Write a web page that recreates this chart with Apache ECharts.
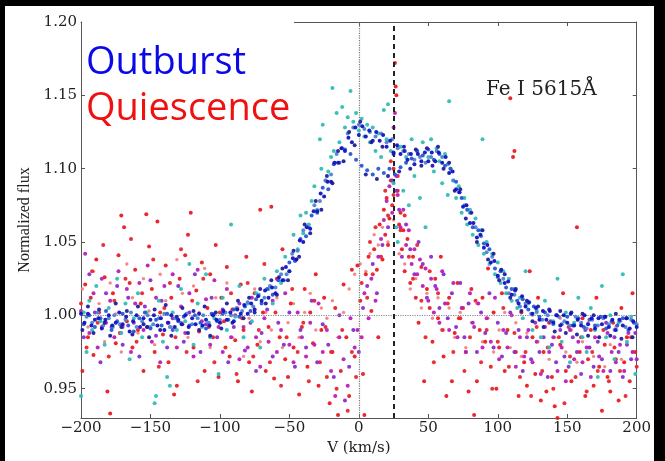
<!DOCTYPE html>
<html><head><meta charset="utf-8">
<script src="https://cdn.jsdelivr.net/npm/echarts@6/dist/echarts.min.js"></script>
<style>
html,body{margin:0;padding:0;background:#000;width:665px;height:461px;overflow:hidden}
#c{position:absolute;left:5px;top:6px;width:649px;height:455px;background:#fff}
</style>
</head><body><div id="c"></div>
<script>
// ---- axis ticks ----
const xTicks = [-200,-150,-100,-50,0,50,100,150,200];
const yTicks = [0.95,1.00,1.05,1.10,1.15,1.20];
const restVelocity = 0;     // dotted vertical
const systemicVelocity = 25; // dashed vertical
const continuumLevel = 1.0; // dotted horizontal

// ---- Outburst spectra (V km/s, normalized flux) ----
const outburstDark = [[-200,1.001],[-197.5,0.995],[-195,1.001],[-192.5,0.993],[-190,0.997],[-187.5,0.998],[-185,0.991],[-182.5,0.997],[-180,1.000],[-177.5,0.993],[-175,0.995],[-172.5,1.002],[-170,0.994],[-167.5,0.999],[-165,0.989],[-162.5,0.996],[-160,1.000],[-157.5,0.992],[-155,0.998],[-152.5,0.992],[-150,0.997],[-147.5,1.000],[-145,0.993],[-142.5,0.998],[-140,0.990],[-137.5,0.995],[-135,1.000],[-132.5,0.992],[-130,0.997],[-127.5,0.994],[-125,1.000],[-122.5,0.992],[-120,0.998],[-117.5,0.994],[-115,1.001],[-112.5,0.993],[-110,0.997],[-107.5,0.993],[-105,1.000],[-102.5,0.997],[-100,0.995],[-97.5,1.003],[-95,0.997],[-92.5,1.002],[-90,0.996],[-87.5,1.004],[-85,1.001],[-82.5,1.007],[-80,1.001],[-77.5,1.008],[-75,1.004],[-72.5,1.013],[-70,1.010],[-67.5,1.017],[-65,1.012],[-62.5,1.019],[-60,1.015],[-57.5,1.026],[-55,1.024],[-52.5,1.033],[-50,1.030],[-47.5,1.039],[-45,1.038],[-42.5,1.051],[-40,1.050],[-37.5,1.060],[-35,1.059],[-32.5,1.071],[-30,1.071],[-27.5,1.083],[-25,1.081],[-22.5,1.091],[-20,1.091],[-17.5,1.104],[-15,1.104],[-12.5,1.114],[-10,1.112],[-7.5,1.121],[-5,1.118],[-2.5,1.128],[0,1.123],[2.5,1.129],[5,1.122],[7.5,1.126],[10,1.119],[12.5,1.125],[15,1.119],[17.5,1.123],[20,1.115],[22.5,1.119],[25,1.111],[27.5,1.116],[30,1.110],[32.5,1.115],[35,1.106],[37.5,1.110],[40,1.103],[42.5,1.110],[45,1.105],[47.5,1.111],[50,1.105],[52.5,1.111],[55,1.105],[57.5,1.111],[60,1.104],[62.5,1.108],[65,1.097],[67.5,1.098],[70,1.086],[72.5,1.084],[75,1.074],[77.5,1.075],[80,1.063],[82.5,1.063],[85,1.053],[87.5,1.055],[90,1.046],[92.5,1.048],[95,1.036],[97.5,1.037],[100,1.027],[102.5,1.031],[105,1.022],[107.5,1.023],[110,1.014],[112.5,1.017],[115,1.008],[117.5,1.013],[120,1.006],[122.5,1.009],[125,1.001],[127.5,1.005],[130,0.997],[132.5,1.003],[135,0.997],[137.5,1.003],[140,0.995],[142.5,1.000],[145,0.993],[147.5,1.000],[150,0.995],[152.5,1.001],[155,0.993],[157.5,0.997],[160,0.993],[162.5,1.000],[165,0.994],[167.5,0.998],[170,0.991],[172.5,0.998],[175,0.994],[177.5,0.999],[180,0.992],[182.5,0.997],[185,0.990],[187.5,0.997],[190,0.993],[192.5,0.998],[195,0.991],[197.5,0.996],[200,0.992]];

const outburstNavy = [[-199,0.990],[-195,1.006],[-191,0.988],[-187,1.004],[-183,0.995],[-179,0.986],[-175,1.008],[-171,0.992],[-167,1.003],[-163,0.987],[-159,1.006],[-155,0.994],[-151,0.985],[-147,1.004],[-143,0.990],[-139,1.007],[-135,0.986],[-131,0.999],[-127,1.005],[-123,0.988],[-119,1.003],[-115,0.990],[-111,1.006],[-107,0.986],[-103,1.002],[-99,0.991],[-95,1.008],[-91,0.995],[-87,1.010],[-83,0.998],[-79,1.012],[-75,1.002],[-71,1.018],[-67,1.008],[-63,1.024],[-59,1.014],[-55,1.032],[-51,1.024],[-47,1.044],[-43,1.040],[-39,1.062],[-35,1.056],[-31,1.078],[-27,1.072],[-23,1.095],[-19,1.090],[-15,1.112],[-11,1.105],[-7,1.125],[-3,1.116],[1,1.132],[5,1.096],[9,1.118],[13,1.093],[17,1.115],[21,1.095],[25,1.110],[29,1.098],[33,1.112],[37,1.100],[41,1.113],[45,1.102],[49,1.114],[53,1.102],[57,1.115],[61,1.100],[65,1.104],[69,1.085],[73,1.086],[77,1.066],[81,1.070],[85,1.050],[89,1.058],[93,1.038],[97,1.042],[101,1.024],[105,1.028],[109,1.012],[113,1.018],[117,1.003],[121,1.010],[125,0.996],[129,1.006],[133,0.992],[137,1.004],[141,0.989],[145,1.003],[149,0.988],[153,1.002],[157,0.987],[161,1.001],[165,0.986],[169,1.000],[173,0.985],[177,0.999],[181,0.986],[185,1.001],[189,0.984],[193,0.998],[197,0.985]];

const outburstMid = [[-198,0.994],[-194,1.000],[-190,0.992],[-186,0.998],[-182,1.003],[-178,0.990],[-174,0.996],[-170,1.001],[-166,0.993],[-162,0.989],[-158,0.998],[-154,1.002],[-150,0.991],[-146,0.997],[-142,0.993],[-138,1.001],[-134,0.990],[-130,0.996],[-126,0.999],[-122,0.993],[-118,1.000],[-114,0.995],[-110,0.991],[-106,1.001],[-102,0.996],[-98,1.001],[-94,0.997],[-90,1.004],[-86,0.999],[-82,1.006],[-78,1.003],[-74,1.011],[-70,1.008],[-66,1.018],[-62,1.014],[-58,1.024],[-54,1.024],[-50,1.036],[-46,1.037],[-42,1.052],[-38,1.054],[-34,1.068],[-30,1.070],[-26,1.087],[-22,1.086],[-18,1.103],[-14,1.104],[-10,1.113],[-6,1.110],[-2,1.106],[2,1.102],[6,1.099],[10,1.096],[14,1.100],[18,1.097],[22,1.100],[26,1.096],[30,1.101],[34,1.104],[38,1.107],[42,1.112],[46,1.109],[50,1.113],[54,1.106],[58,1.110],[62,1.102],[66,1.100],[70,1.091],[74,1.080],[78,1.072],[82,1.060],[86,1.058],[90,1.049],[94,1.045],[98,1.032],[102,1.030],[106,1.019],[110,1.018],[114,1.010],[118,1.011],[122,1.004],[126,1.006],[130,0.999],[134,1.002],[138,0.996],[142,1.000],[146,0.994],[150,0.999],[154,0.993],[158,0.998],[162,0.992],[166,0.997],[170,0.993],[174,0.999],[178,0.991],[182,0.996],[186,0.993],[190,0.998],[194,0.990],[198,0.995]];

const outburstLight = [[-196,0.999],[-192,0.995],[-188,1.002],[-184,0.993],[-180,0.998],[-176,1.000],[-172,0.994],[-168,0.997],[-164,1.002],[-160,0.992],[-156,0.996],[-152,1.000],[-148,0.994],[-144,0.998],[-140,1.001],[-136,0.992],[-132,0.998],[-128,0.995],[-124,1.001],[-120,0.994],[-116,0.998],[-112,1.000],[-108,0.995],[-104,1.001],[-100,0.997],[-96,1.002],[-92,1.000],[-88,1.005],[-84,1.003],[-80,1.009],[-76,1.006],[-72,1.014],[-68,1.012],[-64,1.020],[-60,1.019],[-56,1.028],[-52,1.028],[-48,1.042],[-44,1.044],[-40,1.058],[-36,1.060],[-32,1.075],[-28,1.078],[-24,1.092],[-20,1.096],[-16,1.110],[-12,1.114],[-8,1.124],[-4,1.128],[0,1.130],[4,1.127],[8,1.125],[12,1.122],[16,1.124],[20,1.118],[24,1.120],[28,1.114],[32,1.112],[36,1.110],[40,1.106],[44,1.108],[48,1.104],[52,1.108],[56,1.112],[60,1.108],[64,1.103],[68,1.092],[72,1.084],[76,1.075],[80,1.070],[84,1.060],[88,1.054],[92,1.043],[96,1.040],[100,1.026],[104,1.025],[108,1.015],[112,1.014],[116,1.006],[120,1.008],[124,1.001],[128,1.003],[132,0.997],[136,1.000],[140,0.994],[144,0.999],[148,0.996],[152,0.993],[156,0.999],[160,0.995],[164,0.991],[168,0.997],[172,0.993],[176,0.998],[180,0.994],[184,0.990],[188,0.996],[192,0.992],[196,0.997],[200,0.994]];

const outburstCyan = [[-200,0.945],[-198,1.002],[-196,0.975],[-194,1.010],[-192,0.990],[-189,1.020],[-186,0.996],[-183,0.980],[-180,1.005],[-177,0.992],[-174,1.025],[-171,0.988],[-168,1.008],[-165,0.970],[-162,0.998],[-159,1.015],[-156,0.985],[-153,1.002],[-150,0.992],[-147,0.940],[-146,0.945],[-144,1.010],[-141,0.982],[-138,0.958],[-136,0.952],[-134,1.002],[-131,0.990],[-128,1.018],[-125,0.996],[-122,1.035],[-119,0.980],[-116,1.008],[-113,0.992],[-110,1.028],[-107,0.985],[-104,0.998],[-101,0.960],[-98,1.012],[-95,0.990],[-92,1.062],[-89,0.999],[-86,1.020],[-83,0.985],[-80,1.008],[-77,0.996],[-74,1.015],[-71,0.978],[-68,1.025],[-65,1.018],[-62,1.008],[-59,1.030],[-56,1.022],[-53,1.040],[-50,1.030],[-47,1.055],[-44,1.045],[-42,1.068],[-40,1.056],[-38,1.070],[-36,1.062],[-34,1.078],[-32,1.088],[-30,1.072],[-28,1.120],[-27,1.100],[-26,1.130],[-24,1.092],[-22,1.098],[-20,1.108],[-19,1.155],[-18,1.112],[-16,1.138],[-14,1.118],[-12,1.142],[-10,1.128],[-8,1.135],[-6,1.153],[-4,1.132],[-2,1.138],[0,1.126],[2,1.134],[4,1.122],[6,1.130],[8,1.118],[10,1.128],[12,1.112],[14,1.124],[16,1.108],[18,1.140],[20,1.120],[21,1.144],[23,1.112],[25,1.090],[27,1.060],[28,1.050],[30,1.115],[32,1.085],[34,1.108],[36,1.075],[38,1.120],[40,1.095],[42,1.112],[44,1.080],[46,1.118],[48,1.060],[50,1.108],[52,1.120],[54,1.098],[56,1.114],[58,1.105],[60,1.090],[62,1.110],[64,1.082],[65,1.146],[66,1.100],[68,1.092],[70,1.080],[72,1.088],[74,1.070],[76,1.080],[78,1.062],[80,1.072],[82,1.055],[84,1.066],[86,1.048],[88,1.058],[89,1.120],[90,1.042],[92,1.050],[94,1.035],[96,1.042],[98,1.028],[100,1.036],[102,1.022],[104,1.030],[106,1.015],[108,1.025],[110,1.010],[112,1.018],[114,1.005],[116,1.012],[118,0.998],[120,1.030],[122,1.008],[125,0.990],[128,1.002],[131,0.985],[134,1.010],[137,0.978],[140,0.996],[143,1.025],[146,0.982],[149,1.002],[152,0.968],[155,0.995],[158,1.012],[161,0.985],[164,0.975],[167,1.005],[170,0.990],[172,0.958],[175,1.020],[178,0.985],[181,1.000],[184,0.970],[187,0.995],[190,1.028],[193,0.982],[196,0.999],[199,0.960]];

// ---- Quiescence spectra ----
const quiescenceRed = [[-199,0.962],[-197,1.021],[-195,0.985],[-193,1.012],[-191,0.973],[-189,1.038],[-187,1.002],[-185,0.992],[-183,1.026],[-181,0.948],[-179,0.933],[-177,1.015],[-175,0.981],[-173,1.041],[-171,1.068],[-169,1.060],[-167,0.996],[-165,1.022],[-163,0.978],[-161,1.031],[-159,0.990],[-157,1.008],[-155,0.962],[-153,1.069],[-151,1.047],[-149,1.018],[-147,0.975],[-145,1.064],[-143,1.002],[-141,0.987],[-139,1.034],[-137,0.968],[-135,1.012],[-133,0.946],[-131,0.952],[-129,1.025],[-127,0.994],[-125,1.041],[-123,1.055],[-121,1.070],[-119,0.978],[-117,1.017],[-115,0.989],[-113,1.036],[-111,0.962],[-109,1.005],[-107,1.028],[-105,0.985],[-103,1.048],[-101,0.958],[-99,1.012],[-97,0.996],[-95,1.033],[-93,0.972],[-91,1.004],[-89,0.983],[-87,0.955],[-85,1.021],[-83,0.990],[-81,1.040],[-79,0.968],[-77,0.948],[-75,1.015],[-73,0.980],[-71,1.072],[-69,1.002],[-67,0.962],[-65,0.992],[-63,1.074],[-61,0.957],[-59,1.025],[-57,0.985],[-55,1.045],[-53,0.970],[-51,0.958],[-49,1.008],[-47,0.978],[-45,1.038],[-43,0.946],[-41,0.992],[-39,1.018],[-37,0.965],[-35,1.002],[-33,0.981],[-31,1.028],[-29,0.952],[-27,0.990],[-25,1.012],[-23,0.958],[-21,0.940],[-19,0.975],[-17,1.005],[-15,0.932],[-13,0.962],[-11,1.021],[-9,0.985],[-7,0.945],[-5,1.031],[-3,0.972],[-1,1.034],[1,1.010],[3,0.960],[4,0.932],[5,1.028],[7,1.040],[9,1.003],[11,1.045],[13,1.031],[14,0.985],[15,1.062],[17,1.038],[18,1.072],[19,1.055],[20,1.080],[21,1.048],[22,1.066],[23,1.092],[24,1.075],[25,1.100],[26,1.172],[26.5,1.156],[27,1.150],[28,1.085],[29,1.062],[30,1.070],[31,1.045],[32,1.058],[33,1.030],[35,1.052],[37,1.022],[39,1.040],[41,1.012],[43,0.995],[45,1.033],[47,0.955],[49,1.018],[51,1.005],[53,0.982],[55,1.025],[57,0.998],[59,1.040],[61,0.972],[63,0.945],[65,1.012],[67,0.955],[69,0.988],[71,1.022],[73,0.998],[75,1.005],[77,0.975],[79,0.948],[81,1.018],[83,0.932],[85,0.955],[87,0.990],[89,1.012],[91,0.982],[93,1.032],[95,0.965],[97,1.002],[99,0.950],[101,0.978],[103,1.015],[105,0.962],[107,0.990],[109,1.148],[111,1.108],[112,1.112],[113,0.975],[115,0.945],[117,1.002],[119,0.968],[121,0.952],[123,1.030],[125,0.985],[127,0.960],[129,1.012],[131,0.942],[133,0.975],[135,0.948],[137,0.995],[139,0.958],[141,0.938],[143,0.930],[145,0.980],[147,1.015],[149,0.962],[151,0.992],[153,0.955],[155,0.928],[157,1.060],[159,0.975],[161,0.998],[163,0.945],[165,0.970],[167,0.990],[169,0.952],[171,1.012],[173,0.965],[175,0.935],[177,0.980],[179,0.958],[181,0.948],[183,0.995],[185,0.970],[187,0.942],[189,1.005],[191,0.968],[193,0.985],[195,0.955],[197,1.015],[199,0.975]];

const quiescenceRed2 = [[-200,1.008],[-196,0.978],[-192,1.030],[-188,0.995],[-184,1.048],[-180,0.972],[-176,1.010],[-172,0.988],[-168,1.025],[-164,1.052],[-160,0.982],[-156,1.015],[-152,0.992],[-148,1.038],[-144,0.965],[-140,1.005],[-136,1.022],[-132,0.985],[-128,1.045],[-124,0.975],[-120,1.010],[-116,0.955],[-112,1.025],[-108,0.992],[-104,0.968],[-100,1.002],[-96,0.978],[-92,1.015],[-88,0.960],[-84,0.998],[-80,1.022],[-76,0.972],[-72,0.990],[-68,1.035],[-64,0.968],[-60,1.002],[-56,0.952],[-52,0.985],[-48,1.018],[-44,0.975],[-40,0.995],[-36,0.955],[-32,1.010],[-28,0.968],[-24,0.992],[-20,0.975],[-16,0.950],[-12,0.990],[-8,0.935],[-5,0.975],[-2,0.958],[2,1.022],[6,1.012],[8,1.050],[10,1.028],[12,1.060],[16,1.040],[19,1.085],[21,1.068],[23,1.105],[25,1.082],[28,1.095],[30,1.058],[33,1.068],[36,1.040],[39,1.025],[42,1.048],[45,1.010],[48,0.985],[51,1.030],[54,0.968],[57,1.015],[60,0.990],[64,1.008],[68,0.975],[72,0.998],[76,0.962],[80,0.985],[84,1.010],[88,0.968],[92,0.990],[96,0.950],[100,0.982],[104,1.005],[108,0.965],[112,0.988],[116,0.958],[120,0.975],[124,0.945],[128,0.992],[132,0.962],[136,0.978],[140,0.950],[144,0.985],[148,0.940],[152,0.972],[156,0.958],[160,0.985],[164,0.948],[168,0.975],[172,0.962],[176,0.990],[180,0.955],[184,0.978],[188,0.962],[192,0.945],[196,0.985],[200,0.965]];

const quiescenceMagenta = [[-200,1.003],[-197,1.042],[-194,0.988],[-191,1.015],[-188,0.978],[-185,1.025],[-182,0.995],[-179,1.010],[-176,0.985],[-173,1.030],[-170,0.992],[-167,1.018],[-164,0.975],[-161,1.008],[-158,1.022],[-155,0.990],[-152,1.034],[-149,0.982],[-146,1.012],[-143,0.968],[-140,1.020],[-137,0.995],[-134,1.028],[-131,0.978],[-128,1.006],[-125,0.988],[-122,1.015],[-119,0.972],[-116,1.031],[-113,0.996],[-110,1.011],[-107,0.980],[-104,1.024],[-101,0.992],[-98,0.975],[-95,1.018],[-92,0.985],[-89,1.000],[-86,0.970],[-83,0.992],[-80,0.978],[-77,1.012],[-74,0.985],[-71,0.965],[-68,0.998],[-65,0.982],[-62,1.010],[-59,0.975],[-56,0.990],[-53,1.015],[-50,0.980],[-47,0.968],[-44,1.002],[-41,0.985],[-38,0.972],[-35,0.995],[-32,0.980],[-29,1.008],[-26,0.975],[-23,0.990],[-20,0.962],[-17,0.945],[-14,0.985],[-11,0.970],[-8,0.952],[-6,0.998],[-3,0.978],[-1,0.990],[2,0.985],[4,1.015],[7,0.998],[9,1.025],[12,1.010],[14,1.040],[16,1.052],[18,1.065],[20,1.078],[22,1.088],[24,1.070],[25,1.128],[26,1.138],[27,1.095],[28,1.082],[30,1.060],[32,1.072],[34,1.048],[36,1.058],[38,1.035],[40,1.045],[42,1.028],[44,1.038],[46,1.020],[48,1.032],[50,1.010],[52,1.025],[54,1.002],[56,1.018],[58,0.995],[60,1.030],[62,1.008],[65,0.990],[68,1.022],[71,0.985],[74,1.005],[77,0.975],[80,1.015],[83,0.992],[86,1.008],[89,0.978],[92,0.998],[95,0.982],[98,1.012],[101,0.970],[104,0.990],[107,0.978],[110,1.000],[113,0.965],[116,0.985],[119,0.972],[122,0.990],[125,0.968],[128,0.982],[131,0.960],[134,0.992],[137,0.975],[140,0.985],[143,0.962],[146,0.978],[149,0.955],[152,0.990],[155,0.970],[158,0.982],[161,0.968],[164,0.978],[167,0.958],[170,0.985],[173,0.972],[176,0.962],[179,0.988],[182,0.975],[185,0.968],[188,0.980],[191,0.962],[194,0.988],[197,0.975],[200,0.970]];

const quiescenceViolet = [[-198,0.985],[-194,1.028],[-190,1.002],[-186,0.968],[-182,1.015],[-178,0.992],[-174,1.020],[-170,0.980],[-166,1.012],[-162,0.995],[-158,0.972],[-154,1.006],[-150,1.024],[-146,0.986],[-142,1.010],[-138,0.978],[-134,0.998],[-130,1.020],[-126,0.982],[-122,1.002],[-118,1.028],[-114,0.975],[-110,0.994],[-106,1.012],[-102,0.985],[-98,1.004],[-94,0.968],[-90,0.992],[-86,1.008],[-82,0.976],[-78,0.995],[-74,0.962],[-70,0.988],[-66,1.004],[-62,0.972],[-58,0.995],[-54,0.980],[-50,1.002],[-46,0.965],[-42,0.990],[-38,0.978],[-34,1.010],[-30,0.968],[-26,0.994],[-22,0.980],[-18,0.958],[-14,1.000],[-10,0.942],[-7,0.965],[-4,0.990],[0,0.975],[3,1.005],[6,1.020],[10,1.035],[13,1.015],[17,1.048],[21,1.060],[24,1.092],[27,1.085],[29,1.072],[31,1.040],[34,1.062],[37,1.045],[40,1.028],[43,1.050],[46,1.035],[49,1.012],[52,1.040],[55,1.020],[58,1.005],[61,1.028],[64,0.998],[67,1.015],[70,0.992],[73,1.022],[76,0.985],[79,1.008],[82,0.995],[85,0.975],[88,1.002],[91,0.988],[94,1.015],[97,0.978],[100,0.995],[103,0.972],[106,0.988],[109,1.002],[112,0.975],[115,0.990],[118,0.962],[121,0.985],[124,0.970],[127,0.995],[130,0.975],[133,0.985],[136,0.958],[139,0.980],[142,0.968],[145,0.990],[148,0.972],[151,0.965],[154,0.985],[157,0.975],[160,0.960],[163,0.990],[166,0.978],[169,0.965],[172,0.982],[175,0.970],[178,0.995],[181,0.962],[184,0.985],[187,0.975],[190,0.958],[193,0.980],[196,0.970],[199,0.988]];

const quiescencePink = [[-199,1.018],[-195,0.992],[-191,1.030],[-187,1.008],[-183,0.982],[-179,1.022],[-175,1.001],[-171,0.975],[-167,1.035],[-163,1.012],[-159,0.988],[-155,1.025],[-151,1.003],[-147,0.980],[-143,1.028],[-139,1.010],[-135,0.992],[-131,1.038],[-127,1.015],[-123,0.985],[-119,1.020],[-115,1.002],[-111,1.032],[-107,0.978],[-103,1.012],[-99,0.995],[-95,1.022],[-91,0.985],[-87,1.005],[-83,0.972],[-79,0.998],[-75,1.018],[-71,0.982],[-67,1.002],[-63,0.990],[-59,1.012],[-55,0.978],[-51,0.995],[-47,1.008],[-43,0.985],[-39,1.002],[-35,1.015],[-31,0.990],[-27,1.005],[-23,0.998],[-19,1.010],[-15,0.985],[-11,1.002],[-7,1.018],[-3,1.028],[1,1.035],[5,1.030],[8,1.042],[11,1.055],[14,1.048],[17,1.060],[21,1.050],[25,1.065],[29,1.042],[33,1.035],[37,1.018],[41,1.025],[45,1.005],[49,1.015],[53,0.998],[57,1.012],[61,0.990],[65,1.005],[69,0.985],[73,1.002],[77,0.978],[81,0.995],[85,1.008],[89,0.982],[93,0.998],[97,0.975],[101,0.990],[105,1.002],[109,0.978],[113,0.995],[117,0.972],[121,0.988],[125,1.000],[129,0.982],[133,0.992],[137,0.970],[141,0.985],[145,0.998],[149,0.975],[153,0.990],[157,0.968],[161,0.982],[165,0.995],[169,0.972],[173,0.985],[177,0.965],[181,0.980],[185,0.992],[189,0.970],[193,0.985],[197,0.975]];

const chart = echarts.init(document.getElementById('c'), null, {renderer: 'canvas'});
const serif = '"DejaVu Serif", serif';
const axisColor = '#555';
function sc(name, data, color, size, z) {
  return {name, type: 'scatter', data, symbolSize: size, itemStyle: {color, opacity: 0.95},
    z: z, silent: true, animation: false, xAxisIndex: 0, yAxisIndex: 0};
}
const tickFmt = v => (v < 0 ? '\u2212' + Math.abs(v) : String(v));
chart.setOption({
  animation: false,
  backgroundColor: '#fff',
  grid: {left: 76, right: 17, top: 16, bottom: 43},
  xAxis: [
    {type: 'value', position: 'bottom', min: -200, max: 200, interval: 50,
     name: 'V (km/s)', nameLocation: 'middle', nameGap: 15,
     nameTextStyle: {fontFamily: serif, fontSize: 15, color: '#222'},
     axisLine: {show: true, lineStyle: {color: axisColor, width: 1}},
     axisTick: {show: true, inside: true, length: 4, lineStyle: {color: axisColor}},
     axisLabel: {fontFamily: serif, fontSize: 15, color: '#222', margin: 3, formatter: tickFmt},
     splitLine: {show: false}},
    {type: 'value', position: 'top', min: -200, max: 200, interval: 50,
     axisLine: {show: true, onZero: false, lineStyle: {color: axisColor, width: 1}},
     axisTick: {show: true, inside: true, length: 4, lineStyle: {color: axisColor}},
     axisLabel: {show: false}, splitLine: {show: false}}
  ],
  yAxis: [
    {type: 'value', position: 'left', min: 0.93, max: 1.20,
     name: 'Normalized flux', nameLocation: 'middle', nameGap: 43,
     nameTextStyle: {fontFamily: '"Liberation Serif", serif', fontSize: 16, color: '#222'},
     axisLine: {show: true, onZero: false, lineStyle: {color: axisColor, width: 1}},
     axisTick: {show: true, inside: true, length: 4, customValues: yTicks, lineStyle: {color: axisColor}},
     axisLabel: {fontFamily: serif, fontSize: 15, color: '#222', margin: 4, customValues: yTicks,
       formatter: v => v.toFixed(2)},
     splitLine: {show: false}},
    {type: 'value', position: 'right', min: 0.93, max: 1.20,
     axisLine: {show: true, onZero: false, lineStyle: {color: axisColor, width: 1}},
     axisTick: {show: true, inside: true, length: 4, customValues: yTicks, lineStyle: {color: axisColor}},
     axisLabel: {show: false}, splitLine: {show: false}}
  ],
  series: [
    sc('Quiescence pink', quiescencePink, '#f28282', 3.4, 2),
    sc('Quiescence red', quiescenceRed, '#ea1a22', 4, 3),
    sc('Quiescence red 2', quiescenceRed2, '#e8262e', 4, 3),
    sc('Quiescence violet', quiescenceViolet, '#8a2ccc', 4, 4),
    sc('Quiescence magenta', quiescenceMagenta, '#b81eb8', 4, 4),
    sc('Outburst cyan', outburstCyan, '#30bdb6', 4, 5),
    sc('Outburst light', outburstLight, '#4f84cf', 4, 6),
    sc('Outburst mid', outburstMid, '#2a56d4', 4, 7),
    sc('Outburst navy', outburstNavy, '#20209a', 4, 7),
    sc('Outburst dark', outburstDark, '#1212c0', 4, 8),
    {type: 'scatter', data: [], z: 9, silent: true, animation: false,
     markLine: {silent: true, animation: false, symbol: ['none', 'none'], label: {show: false},
       data: [
         {xAxis: restVelocity, lineStyle: {color: '#777', type: 'dotted', width: 1.2}},
         {yAxis: continuumLevel, lineStyle: {color: '#888', type: 'dotted', width: 1.2}},
         {xAxis: systemicVelocity, lineStyle: {color: '#222', type: [5, 4], width: 2}}
       ]}}
  ],
  graphic: [
    {type: 'rect', shape: {x: 77, y: 10, width: 212, height: 13}, style: {fill: '#fff'}, z: 100},
    {type: 'text', z: 101, style: {x: 81, y: 57, text: 'Outburst', fill: '#0a0ae8',
      font: '38px "Open Sans", sans-serif', align: 'left', verticalAlign: 'middle',
      textAlign: 'left', textVerticalAlign: 'middle'}},
    {type: 'text', z: 101, style: {x: 81, y: 103, text: 'Quiescence', fill: '#f01010',
      font: '38px "Open Sans", sans-serif', align: 'left', verticalAlign: 'middle',
      textAlign: 'left', textVerticalAlign: 'middle'}},
    {type: 'text', z: 101, style: {x: 481, y: 84, text: 'Fe I 5615\u00C5', fill: '#222',
      font: '20px "DejaVu Serif", serif', align: 'left', verticalAlign: 'middle',
      textAlign: 'left', textVerticalAlign: 'middle'}}
  ]
});
</script>
</body></html>
